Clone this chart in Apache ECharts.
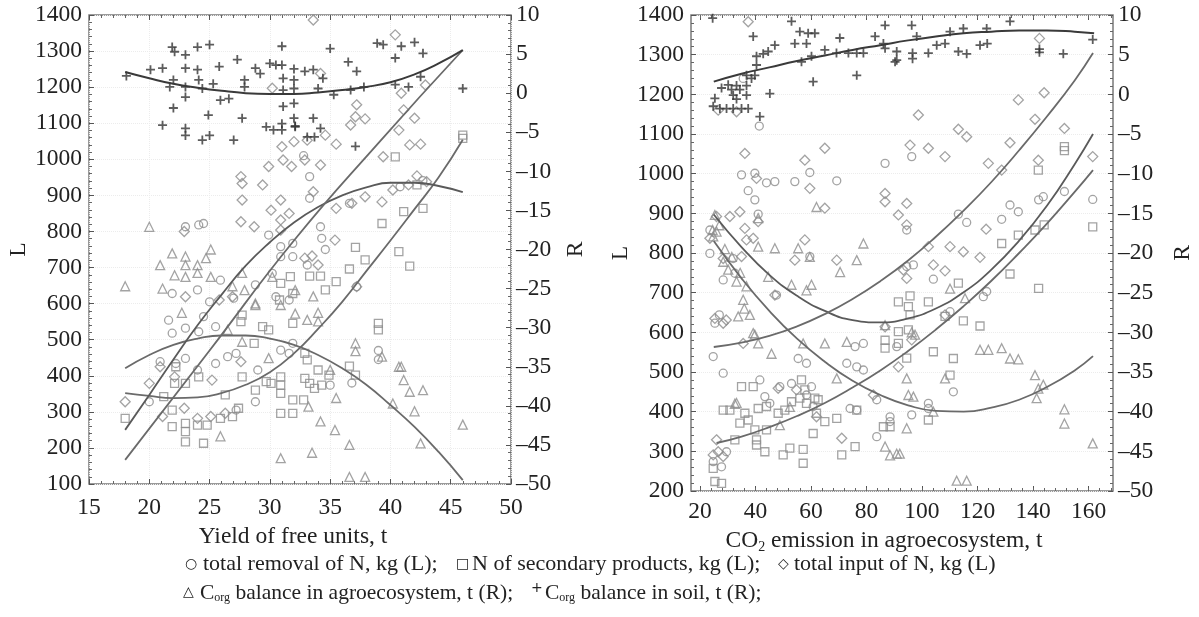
<!DOCTYPE html>
<html>
<head>
<meta charset="utf-8">
<script src="https://cdn.jsdelivr.net/npm/echarts@6/dist/echarts.min.js"></script>
<style>
  html, body { margin: 0; padding: 0; background: #fff; }
  #chart { width: 1199px; height: 617px; }
</style>
</head>
<body>
<div id="chart"></div>
<script>
// ---- left panel: yield of free units (x), L = kg N, R = t C ----
const yieldPlus = [ // C_org balance in soil (R)
  [18.1,2.2],[20.1,3.0],[21.1,3.2],[21.9,5.9],[22.1,5.3],[23.0,4.9],[23.0,3.2],[24.0,5.9],[25.0,6.2],[24.0,3.0],
  [22.0,1.7],[21.7,0.8],[23.0,0.8],[24.1,1.7],[25.3,1.2],[24.4,0.6],[21.1,-4.1],[22.0,-1.9],[23.0,-0.5],[23.0,-4.5],
  [23.0,-5.4],[24.4,-6.0],[25.0,-5.4],[27.0,-6.0],[24.9,-2.8],[25.9,-0.9],[26.6,-0.7],[25.8,3.4],[27.3,4.3],[27.7,-3.2],
  [27.9,1.7],[27.9,0.8],[28.8,3.2],[29.2,2.5],[30.0,3.8],[30.5,3.6],[31.0,6.0],[31.0,3.6],[32.0,3.1],[31.1,1.9],
  [32.0,1.7],[31.1,0.4],[32.0,0.6],[29.7,-4.3],[30.3,-4.7],[31.0,-3.9],[31.0,-4.7],[32.0,-3.2],[32.1,-4.2],[31.1,-1.7],
  [32.0,-1.3],[33.6,3.0],[32.9,2.8],[34.4,1.9],[34.0,0.6],[35.0,5.7],[35.3,-0.2],[36.5,4.0],[37.2,2.8],[36.7,0.4],
  [37.8,0.8],[38.9,6.4],[39.4,6.2],[40.4,4.5],[40.9,6.0],[42.0,6.5],[42.7,5.1],[40.4,1.1],[41.5,0.8],[42.5,2.1],
  [46.0,0.6],[37.1,-6.8],[32.1,-4.3],[33.6,-3.2],[34.2,-4.5],[33.1,-5.6],[33.7,-5.6]
];
const yieldTri = [ // C_org balance in agroecosystem (R)
  [20.0,-17.1],[18.0,-24.7],[21.9,-20.5],[20.9,-22.0],[22.1,-23.3],[23.0,-20.9],[23.0,-22.0],[23.0,-23.5],[24.0,-22.0],
  [24.0,-23.0],[25.1,-20.0],[25.1,-23.5],[24.7,-21.1],[21.1,-25.0],[27.7,-23.0],[26.9,-24.7],[27.9,-25.2],[28.8,-26.9],
  [22.7,-28.1],[26.5,-30.3],[25.9,-43.9],[30.9,-46.7],[29.9,-33.9],[30.9,-27.1],[32.1,-28.2],[32.1,-25.2],[30.2,-23.5],
  [27.7,-31.8],[28.8,-27.1],[33.6,-26.0],[34.0,-28.1],[33.1,-29.0],[34.0,-29.2],[37.1,-32.0],[37.1,-33.0],[39.3,-33.7],
  [40.7,-35.0],[40.9,-35.0],[41.1,-36.7],[41.6,-38.2],[42.7,-38.0],[40.2,-39.7],[42.0,-40.7],[46.0,-42.4],[35.5,-39.0],
  [34.2,-42.0],[35.4,-43.1],[36.6,-45.0],[33.5,-46.0],[42.5,-44.8],[36.6,-49.1],[37.9,-49.1],[33.2,-40.1],[35.0,-35.4]
];
const yieldCirc = [ // total removal of N (L)
  [20.0,328],[20.9,439],[21.6,554],[21.9,518],[23.0,532],[21.9,628],[24.0,638],[25.9,665],[25.0,605],[24.5,564],
  [25.5,536],[24.1,522],[22.2,434],[23.0,448],[24.0,416],[25.5,434],[26.5,453],[27.2,462],[29.0,416],[28.8,328],
  [27.2,305],[30.2,684],[30.9,730],[31.9,730],[28.8,652],[30.5,619],[31.6,610],[30.9,471],[31.6,462],[29.9,790],
  [30.9,758],[31.9,767],[23.0,813],[24.1,818],[24.5,822],[27.0,615],[31.9,490],[33.3,952],[33.3,892],[34.2,813],
  [34.6,750],[33.1,707],[37.2,647],[39.0,445],[35.0,374],[36.6,878],[40.8,924],[42.7,941],[34.3,781],[39.0,470],
  [36.8,380],[32.8,1010]
];
const yieldSq = [ // N of secondary products (L)
  [18.0,282],[21.2,342],[22.2,425],[22.1,379],[23.0,379],[21.9,305],[23.0,268],[23.0,245],[23.0,217],[21.9,259],
  [24.0,263],[24.8,263],[24.5,213],[25.9,282],[26.9,287],[27.4,310],[24.1,397],[27.7,397],[26.3,347],[27.7,568],
  [27.6,550],[29.4,536],[28.7,490],[28.8,360],[29.7,384],[30.1,379],[30.9,397],[30.9,374],[30.9,351],[30.9,296],
  [31.9,333],[31.9,296],[30.9,656],[30.8,610],[31.9,628],[31.9,545],[29.9,527],[40.4,1007],[42.2,929],[41.1,855],
  [42.7,864],[39.3,822],[40.7,744],[41.6,704],[37.1,756],[37.9,721],[36.6,696],[35.5,661],[34.6,638],[33.3,676],
  [34.2,676],[39.0,527],[39.0,545],[36.6,427],[37.1,402],[34.0,416],[34.9,402],[32.9,393],[33.3,379],[33.7,365],
  [34.3,374],[32.8,333],[32.9,462],[33.1,444],[46.0,1067],[46.0,1058],[31.7,675]
];
const yieldDiam = [ // total input of N (L)
  [18.0,328],[20.0,379],[20.9,425],[22.1,397],[25.2,388],[27.6,439],[26.3,296],[25.1,287],[24.0,282],[22.9,310],
  [21.1,287],[22.9,800],[27.6,952],[27.7,933],[29.4,929],[27.7,887],[27.6,827],[28.7,813],[29.9,980],[30.9,887],
  [30.1,859],[31.6,850],[30.9,832],[30.9,804],[23.0,619],[25.8,610],[26.9,619],[32.0,1049],[31.0,1035],[31.1,998],
  [31.8,980],[30.2,1197],[33.6,1386],[40.4,1345],[34.2,1238],[42.9,1206],[40.9,1183],[37.2,1151],[41.1,1137],[37.1,1118],
  [37.9,1112],[42.0,1114],[40.7,1081],[36.7,1095],[34.6,1067],[35.5,1042],[33.1,1053],[41.6,1040],[42.5,1042],[39.4,1007],
  [32.9,998],[34.2,984],[33.6,910],[35.5,864],[37.9,896],[39.3,882],[40.2,915],[42.2,954],[35.4,776],[32.9,726],
  [33.5,732],[34.0,707],[41.5,929],[43.0,938],[36.8,878],[37.2,647]
];
// fitted curves
const yieldPlusFit = [[18,2.7],[20,1.9],[22,1.2],[24,0.7],[26,0.3],[28,0.0],[30,-0.1],[32,-0.1],[34,0.1],[36,0.4],[38,0.8],[40,1.4],[42,2.4],[44,3.8],[46,5.5]];
const yieldTriFit = [[18,-35.2],[20,-33.5],[22,-32.2],[24,-31.4],[26,-31.0],[28,-31.0],[30,-31.4],[32,-32.2],[34,-33.5],[36,-35.2],[38,-37.3],[40,-39.9],[42,-42.7],[44,-45.9],[46,-49.5]];
const yieldCircFit = [[18,250],[20,347],[22,445],[24,540],[26,625],[28,705],[30,770],[32,825],[34,868],[36,900],[38,922],[40,935],[42,935],[44,926],[46,909]];
const yieldSqFit = [[18,352],[20,344],[22,338],[24,340],[26,352],[28,375],[30,410],[32,462],[34,530],[36,605],[38,690],[40,775],[42,862],[44,950],[46,1054]];
const yieldDiamFit = [[18,167],[25,470],[32,775],[39,1045],[46,1303]];

// ---- right panel: CO2 emission (x) ----
const co2Plus = [
  [24.6,9.6],[39.2,7.3],[40.4,4.8],[42.8,5.1],[44.6,5.4],[47.0,6.2],[53.0,9.2],[56.0,7.9],[54.2,6.4],[58.4,6.4],
  [59.0,7.7],[61.4,7.7],[56.6,4.1],[60.2,4.8],[60.8,1.6],[65.0,5.6],[70.4,7.1],[69.2,5.2],[73.5,5.2],[76.5,5.2],
  [78.9,5.2],[76.5,2.4],[83.1,7.3],[86.7,8.7],[86.1,6.4],[86.7,5.8],[90.9,5.4],[90.9,4.3],[90.3,4.1],[96.3,8.7],
  [98.1,7.3],[96.6,5.2],[96.6,4.5],[102.3,5.2],[105.3,6.2],[108.3,6.4],[110.1,7.9],[114.9,8.3],[113.1,5.4],[116.1,5.1],
  [120.9,6.2],[123.3,8.3],[123.5,6.4],[131.7,9.2],[142.3,5.7],[142.3,5.3],[150.9,5.1],[161.5,6.9],
  [25.4,-0.5],[27.8,0.8],[30.2,1.2],[33.2,1.1],[34.4,0.6],[36.8,-0.1],[32.0,-0.1],[33.2,-0.6],[29.6,-1.8],[27.2,-1.8],
  [24.8,-1.5],[32.0,-1.8],[35.0,-1.8],[37.4,-1.8],[41.6,-2.8],[36.8,1.1],[38.6,2.0],[31.4,0.6],[45.2,0.1],[39.8,2.4],
  [40.4,3.7],[36.8,2.4]
];
const co2Tri = [
  [24.6,-17.1],[25.4,-15.2],[24.8,-17.9],[26.0,-17.3],[27.0,-16.5],[28.4,-21.1],[30.2,-22.1],[33.2,-23.6],[36.8,-24.2],
  [35.6,-25.9],[38.0,-27.8],[33.8,-28.0],[29.0,-19.5],[31.5,-20.5],[34.5,-22.5],[36.0,-27.0],[41.0,-15.6],[41.0,-19.2],
  [47.0,-19.4],[55.4,-19.4],[59.6,-20.5],[62.0,-14.2],[70.5,-22.4],[76.5,-20.9],[78.9,-18.8],[44.6,-23.0],[53.0,-24.0],
  [58.4,-24.7],[60.2,-24.0],[39.8,-30.3],[41.0,-31.4],[45.8,-32.7],[57.2,-31.4],[65.0,-31.4],[72.9,-31.2],[69.3,-35.8],
  [86.7,-29.1],[88.5,-45.5],[90.9,-45.3],[33.2,-38.9],[48.8,-41.7],[52.4,-39.4],[86.7,-44.4],[39.2,-30.1],[32.6,-39.0],
  [110.1,-24.5],[115.5,-25.7],[120.9,-32.2],[123.9,-32.2],[128.7,-32.0],[131.7,-33.3],[134.7,-33.4],[140.7,-35.4],
  [141.9,-37.1],[143.7,-36.6],[141.3,-38.3],[151.3,-39.7],[151.3,-41.5],[161.5,-44.0],[112.5,-48.7],[116.1,-48.7],
  [108.3,-35.8],[94.5,-35.8],[95.1,-37.9],[96.9,-38.1],[94.5,-42.1],[104.1,-40.0],[92.0,-45.3],[96.3,-30.0],[97.5,-30.3]
];
const co2Circ = [
  [35.0,997],[39.8,1001],[44.0,977],[47.0,980],[54.2,980],[59.6,1003],[69.3,982],[37.4,957],[39.8,934],[41.0,898],
  [23.6,858],[23.6,799],[32.0,786],[59.6,791],[86.7,1026],[47.6,694],[25.4,623],[27.0,644],[24.8,539],[28.4,497],
  [55.4,534],[58.4,522],[75.9,564],[78.9,572],[72.9,522],[76.5,513],[78.9,505],[90.9,564],[83.7,430],[74.1,408],
  [76.5,404],[83.7,337],[88.5,387],[88.5,375],[48.8,463],[53.0,471],[58.4,442],[60.2,463],[60.8,413],[43.4,438],
  [45.2,421],[41.6,480],[32.6,749],[28.4,732],[24.8,274],[29.6,299],[27.8,261],[96.3,1043],[94.5,858],[113.1,898],
  [116.1,877],[128.7,885],[131.7,921],[134.7,904],[142.0,934],[143.7,942],[151.3,955],[161.5,935],[104.1,734],[94.5,766],
  [96.9,770],[110.1,652],[123.3,703],[122.1,690],[111.3,450],[96.3,392],[102.3,421],[102.3,408],[41.4,1120],[35.6,1240]
];
const co2Sq = [
  [151.3,1068],[151.3,1058],[141.9,1009],[161.5,866],[144.0,871],[140.7,858],[134.7,845],[128.7,824],[131.7,747],
  [142.0,711],[113.1,724],[102.3,677],[95.7,692],[95.1,665],[95.7,644],[114.9,629],[120.9,616],[108.3,640],[104.1,551],
  [111.3,534],[110.1,492],[94.5,535],[102.3,379],[95.1,606],[91.5,602],[91.5,572],[91.5,677],[86.7,580],[86.7,560],
  [24.8,257],[25.4,224],[27.8,219],[28.4,404],[30.8,404],[35.0,463],[39.2,463],[36.2,396],[37.4,379],[34.4,371],
  [32.6,329],[39.8,354],[40.4,329],[40.4,316],[44.0,354],[43.4,299],[50.0,291],[52.4,308],[57.2,270],[57.2,305],
  [60.8,345],[65.0,375],[69.3,383],[71.1,291],[75.9,312],[76.5,404],[56.6,480],[57.8,455],[58.4,421],[61.4,434],
  [62.6,430],[56.0,434],[53.0,425],[50.6,404],[48.2,396],[44.0,413],[86.1,362],[88.5,362],[62.0,396],[41.0,408]
];
const co2Diam = [
  [37.4,1383],[33.2,1156],[98.7,1148],[65.0,1064],[95.7,1072],[142.3,1341],[144.0,1204],[134.7,1186],[140.7,1137],
  [113.1,1112],[116.1,1093],[102.3,1064],[131.7,1078],[151.3,1114],[36.2,1051],[40.4,988],[57.8,1034],[59.6,963],
  [34.4,904],[30.8,892],[26.0,892],[41.0,879],[36.2,862],[39.2,837],[23.6,837],[28.4,786],[35.0,791],[36.8,833],
  [57.8,833],[54.2,782],[69.3,782],[65.0,913],[86.7,950],[86.7,929],[91.5,896],[25.4,635],[28.4,623],[29.5,631],
  [35.6,572],[86.7,614],[91.5,513],[82.5,442],[71.1,333],[54.8,455],[62.0,387],[48.2,459],[47.0,694],[24.8,291],
  [26.6,299],[28.4,287],[26.0,329],[108.3,1043],[123.9,1026],[128.7,1009],[141.9,1034],[161.5,1043],[94.5,925],[94.5,871],
  [123.1,860],[102.3,816],[110.1,816],[114.9,803],[120.9,789],[104.1,770],[108.3,755],[93.3,757],[94.5,736],[108.3,644],
  [96.3,581],[26.6,1160]
];
const co2PlusFit = [[25,1.6],[35,2.6],[45,3.4],[55,4.2],[65,4.9],[75,5.6],[85,6.2],[95,6.8],[105,7.3],[115,7.7],[125,7.9],[135,8.05],[145,8.05],[155,7.9],[162,7.7]];
const co2TriFit = [[25,-18.5],[35,-23.2],[45,-27.3],[55,-30.8],[65,-33.7],[75,-36.1],[85,-37.9],[95,-39.2],[105,-39.9],[115,-40.0],[125,-39.5],[135,-38.5],[145,-36.9],[155,-34.8],[161.6,-33.0]];
const co2CircFit = [[25,897],[35,815],[45,745],[55,692],[65,654],[75,631],[85,625],[95,635],[105,660],[115,701],[125,758],[135,831],[145,919],[155,1024],[161.6,1100]];
const co2SqFit = [[26,321],[35,337],[45,361],[55,389],[65,422],[75,461],[85,504],[95,553],[105,607],[115,666],[125,730],[135,800],[145,874],[155,954],[161.6,1009]];
const co2DiamFit = [[25,563],[35,574],[45,591],[55,615],[65,646],[75,684],[85,729],[95,781],[105,841],[115,907],[125,979],[135,1059],[145,1144],[155,1235],[161.6,1304]];

const co2Ticks = [20, 40, 60, 80, 100, 120, 140, 160];
const co2MinorTicks = [];
for (let v = 20; v <= 168; v += 4) co2MinorTicks.push(v);

const FONT = '"Liberation Serif", "DejaVu Serif", serif';
const GREY = '#8c8c8c';
const DARK = '#333';
const PLUS = 'path://M4,0H6V4H10V6H6V10H4V6H0V4H4Z';

const myChart = echarts.init(document.getElementById('chart'), null, { renderer: 'canvas' });

// 坐标轴公共样式
const tickStyle = { show: true, inside: true, length: 5, lineStyle: { color: '#555', width: 1 } };
const minorStyle = { show: true, splitNumber: 5, length: 3, lineStyle: { color: '#666', width: 1 } };
const numFmt = v => String(v).replace('-', '\u2013');
const labelStyle = { color: '#222', fontFamily: FONT, fontSize: 23.5, formatter: numFmt };
const faintSplit = { show: true, lineStyle: { color: '#ececec', type: 'dotted', width: 1 } };
const noLine = { show: false, onZero: false };
const nameStyle = { color: '#222', fontFamily: FONT, fontSize: 23.5 };

function scatter(name, data, xi, yi, symbol, size, filled) {
  return {
    name, type: 'scatter', xAxisIndex: xi, yAxisIndex: yi, data,
    symbol, symbolSize: size, z: 3,
    itemStyle: filled
      ? { color: DARK, borderWidth: 0 }
      : { color: 'rgba(255,255,255,0)', borderColor: GREY, borderWidth: 1.3 },
  };
}
function fit(data, xi, yi, color, width) {
  return {
    type: 'line', xAxisIndex: xi, yAxisIndex: yi, data,
    smooth: true, showSymbol: false, z: 4,
    lineStyle: { color, width },
  };
}

const option = {
  backgroundColor: '#fff',
  animation: false,
  grid: [
    { left: 89, top: 15, width: 422, height: 469, show: true, borderColor: '#7a7a7a', borderWidth: 1.5 },
    { left: 691, top: 15, width: 422, height: 476, show: true, borderColor: '#7a7a7a', borderWidth: 1.5 },
  ],
  xAxis: [
    {
      type: 'value', gridIndex: 0, position: 'bottom', min: 15, max: 50, interval: 5,
      axisLine: noLine, axisTick: tickStyle, minorTick: minorStyle,
      axisLabel: Object.assign({ margin: 12 }, labelStyle),
      splitLine: faintSplit,
      name: 'Yield of free units, t', nameLocation: 'middle', nameGap: 40,
      nameTextStyle: Object.assign({ padding: [0, 14, 0, 0] }, nameStyle),
    },
    {
      type: 'value', gridIndex: 0, position: 'top', min: 15, max: 50, interval: 5,
      axisLine: noLine, axisTick: tickStyle, minorTick: minorStyle,
      axisLabel: { show: false }, splitLine: { show: false },
    },
    {
      type: 'value', gridIndex: 1, position: 'bottom', min: 16.8, max: 168.8,
      axisLine: noLine,
      axisTick: Object.assign({ customValues: co2Ticks }, tickStyle),
      axisLabel: Object.assign({ margin: 9, customValues: co2Ticks }, labelStyle),
      splitLine: { show: false },
      name: 'CO{sub|2} emission in agroecosystem, t', nameLocation: 'middle', nameGap: 33,
      nameTextStyle: Object.assign({
        padding: [0, 36, 0, 0],
        rich: { sub: { fontFamily: FONT, fontSize: 14, padding: [12, 0, 0, 0], color: '#222' } },
      }, nameStyle),
    },
    {
      type: 'value', gridIndex: 1, position: 'top', min: 16.8, max: 168.8,
      axisLine: noLine, axisTick: Object.assign({ customValues: co2Ticks }, tickStyle),
      axisLabel: { show: false }, splitLine: { show: false },
    },
    {
      type: 'value', gridIndex: 1, position: 'bottom', min: 16.8, max: 168.8,
      axisLine: noLine,
      axisTick: { show: true, inside: true, length: 3, customValues: co2MinorTicks, lineStyle: { color: '#666' } },
      axisLabel: { show: false }, splitLine: { show: false },
    },
    {
      type: 'value', gridIndex: 1, position: 'top', min: 16.8, max: 168.8,
      axisLine: noLine,
      axisTick: { show: true, inside: true, length: 3, customValues: co2MinorTicks, lineStyle: { color: '#666' } },
      axisLabel: { show: false }, splitLine: { show: false },
    },
  ],
  yAxis: [
    {
      type: 'value', gridIndex: 0, position: 'left', min: 100, max: 1400, interval: 100,
      axisLine: noLine, axisTick: tickStyle, minorTick: minorStyle,
      axisLabel: Object.assign({ margin: 7 }, labelStyle), splitLine: faintSplit,
      name: 'L', nameLocation: 'middle', nameGap: 45, nameRotate: 90, nameTextStyle: nameStyle,
    },
    {
      type: 'value', gridIndex: 0, position: 'right', min: -50, max: 10, interval: 5,
      axisLine: noLine, axisTick: tickStyle, minorTick: minorStyle,
      axisLabel: Object.assign({ margin: 5 }, labelStyle), splitLine: { show: false },
      name: 'R', nameLocation: 'middle', nameGap: 53, nameRotate: 90, nameTextStyle: nameStyle,
    },
    {
      type: 'value', gridIndex: 1, position: 'left', min: 200, max: 1400, interval: 100,
      axisLine: noLine, axisTick: tickStyle, minorTick: minorStyle,
      axisLabel: Object.assign({ margin: 7 }, labelStyle), splitLine: faintSplit,
      name: 'L', nameLocation: 'middle', nameGap: 51, nameRotate: 90, nameTextStyle: nameStyle,
    },
    {
      type: 'value', gridIndex: 1, position: 'right', min: -50, max: 10, interval: 5,
      axisLine: noLine, axisTick: tickStyle, minorTick: minorStyle,
      axisLabel: Object.assign({ margin: 5 }, labelStyle), splitLine: { show: false },
      name: 'R', nameLocation: 'middle', nameGap: 58, nameRotate: 90, nameTextStyle: nameStyle,
    },
  ],
  series: [
    scatter('tri', yieldTri, 0, 1, 'triangle', 9, false),
    scatter('sq', yieldSq, 0, 0, 'rect', 8, false),
    scatter('circ', yieldCirc, 0, 0, 'circle', 8, false),
    scatter('diam', yieldDiam, 0, 0, 'diamond', 10, false),
    scatter('plus', yieldPlus, 0, 1, PLUS, 9, true),
    fit(yieldTriFit, 0, 1, '#6a6a6a', 1.8),
    fit(yieldSqFit, 0, 0, '#6a6a6a', 1.8),
    fit(yieldCircFit, 0, 0, '#5a5a5a', 1.8),
    fit(yieldDiamFit, 0, 0, '#6a6a6a', 1.8),
    fit(yieldPlusFit, 0, 1, '#3a3a3a', 2),

    scatter('tri', co2Tri, 2, 3, 'triangle', 9, false),
    scatter('sq', co2Sq, 2, 2, 'rect', 8, false),
    scatter('circ', co2Circ, 2, 2, 'circle', 8, false),
    scatter('diam', co2Diam, 2, 2, 'diamond', 10, false),
    scatter('plus', co2Plus, 2, 3, PLUS, 9, true),
    fit(co2TriFit, 2, 3, '#6a6a6a', 1.8),
    fit(co2SqFit, 2, 2, '#6a6a6a', 1.8),
    fit(co2CircFit, 2, 2, '#5a5a5a', 1.8),
    fit(co2DiamFit, 2, 2, '#6a6a6a', 1.8),
    fit(co2PlusFit, 2, 3, '#3a3a3a', 2),
  ],
  graphic: [
    // legend, line 1
    { type: 'text', left: 185, top: 557, style: { text: '○', font: '14px "DejaVu Sans"', fill: '#222' } },
    { type: 'text', left: 203, top: 553, style: { text: 'total removal of N, kg (L);', font: '22px ' + FONT, fill: '#222' } },
    { type: 'text', left: 456, top: 557, style: { text: '□', font: '14px "DejaVu Sans"', fill: '#222' } },
    { type: 'text', left: 472, top: 553, style: { text: 'N of secondary products, kg (L);', font: '22px ' + FONT, fill: '#222' } },
    { type: 'text', left: 778, top: 557, style: { text: '◇', font: '14px "DejaVu Sans"', fill: '#222' } },
    { type: 'text', left: 794, top: 553, style: { text: 'total input of N, kg (L)', font: '22px ' + FONT, fill: '#222' } },
    // legend, line 2
    { type: 'text', left: 183, top: 585, style: { text: '△', font: '14px "DejaVu Sans"', fill: '#222' } },
    {
      type: 'text', left: 200, top: 582,
      style: {
        text: 'C{sub|org} balance in agroecosystem, t (R);',
        font: '21.5px ' + FONT, fill: '#222',
        rich: { sub: { fontSize: 12, fontFamily: FONT, fill: '#222', padding: [10, 0, 0, 0] } },
      },
    },
    { type: 'text', left: 531, top: 581, style: { text: '+', font: '14px "DejaVu Sans"', fill: '#222' } },
    {
      type: 'text', left: 545, top: 582,
      style: {
        text: 'C{sub|org} balance in soil, t (R);',
        font: '21.5px ' + FONT, fill: '#222',
        rich: { sub: { fontSize: 12, fontFamily: FONT, fill: '#222', padding: [10, 0, 0, 0] } },
      },
    },
  ],
};

myChart.setOption(option);
</script>
</body>
</html>
